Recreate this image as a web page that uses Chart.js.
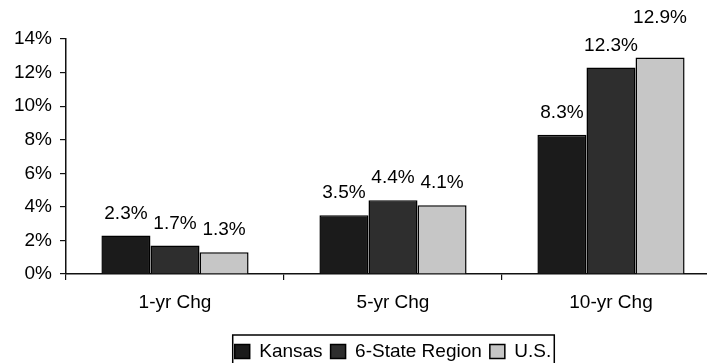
<!DOCTYPE html>
<html>
<head>
<meta charset="utf-8">
<script src="https://cdn.jsdelivr.net/npm/chart.js@4.4.1/dist/chart.umd.min.js"></script>
<style>
  html, body { margin: 0; padding: 0; background: #fff; overflow: hidden; }
  #wrap { width: 724px; height: 363px; position: relative; }
</style>
</head>
<body>
<div id="wrap"><canvas id="chart1"></canvas></div>
<script>
// categories and series
const categories = ['1-yr Chg', '5-yr Chg', '10-yr Chg']
const kansas = [2.3, 3.5, 8.3]
const sixState = [1.7, 4.4, 12.3]
const us = [1.3, 4.1, 12.9]
const yTicks = [0, 2, 4, 6, 8, 10, 12, 14]

const FONT = "'Liberation Sans', Arial, sans-serif"
const FSIZE = 19

// value labels above each bar
const valueLabels = {
  id: 'valueLabels',
  afterDatasetsDraw(chart) {
    const ctx = chart.ctx
    ctx.save()
    ctx.font = FSIZE + 'px ' + FONT
    ctx.fillStyle = '#000'
    ctx.textAlign = 'center'
    ctx.textBaseline = 'middle'
    chart.data.datasets.forEach((ds, i) => {
      chart.getDatasetMeta(i).data.forEach((bar, j) => {
        // the tallest one sits higher in the original
        let lift = 22
        if (i == 2 && j == 2) lift = 40
        ctx.fillText(ds.data[j].toFixed(1) + '%', bar.x, bar.y - lift)
      })
    })
    ctx.restore()
  }
}

// box round the legend
const legendBox = {
  id: 'legendBox',
  afterDraw(chart) {
    const lg = chart.legend
    if (!lg || !lg.legendHitBoxes.length) return
    const boxes = lg.legendHitBoxes
    const left = boxes[0].left - 2
    const right = boxes[boxes.length - 1].left + boxes[boxes.length - 1].width + 3
    const ctx = chart.ctx
    ctx.save()
    ctx.strokeStyle = '#000'
    ctx.lineWidth = 1.5
    ctx.strokeRect(left, 335, right - left, 40)
    ctx.restore()
  }
}

const ctx1 = document.getElementById('chart1').getContext('2d')
const myChart = new Chart(ctx1, {
  type: 'bar',
  data: {
    labels: categories,
    datasets: [{
      label: 'Kansas',
      data: kansas,
      backgroundColor: '#1b1b1b',
      borderColor: '#000',
      borderWidth: 1.5
    }, {
      label: '6-State Region',
      data: sixState,
      backgroundColor: '#2e2e2e',
      borderColor: '#000',
      borderWidth: 1.5
    }, {
      label: 'U.S.',
      data: us,
      backgroundColor: '#c6c6c6',
      borderColor: '#000',
      borderWidth: 1.5
    }]
  },
  options: {
    responsive: true,
    maintainAspectRatio: false,
    animation: false,
    categoryPercentage: 0.675,
    barPercentage: 1,
    layout: { padding: { top: 39, right: 4, left: 0, bottom: -8 } },
    plugins: {
      tooltip: { enabled: false },
      legend: {
        position: 'bottom',
        fullSize: false,
        labels: {
          font: { family: FONT, size: FSIZE },
          color: '#000',
          boxWidth: 15,
          boxHeight: 14,
          padding: 8,
          useBorderRadius: false
        }
      }
    },
    scales: {
      x: {
        afterFit(scale) { scale.height = 60 },
        grid: { drawOnChartArea: false, color: '#111', tickLength: 6, lineWidth: 1.2 },
        border: { display: true, color: '#111', width: 1.5 },
        ticks: { font: { family: FONT, size: FSIZE }, color: '#000', padding: 11 }
      },
      y: {
        min: 0,
        max: 14,
        afterFit(scale) { scale.width = 66 },
        afterBuildTicks(scale) { scale.ticks = yTicks.map(v => ({ value: v })) },
        grid: { drawOnChartArea: false, color: '#111', tickLength: 6, lineWidth: 1.2 },
        border: { display: true, color: '#111', width: 1.5 },
        ticks: {
          font: { family: FONT, size: FSIZE },
          color: '#000',
          padding: 8,
          callback: v => v + '%'
        }
      }
    }
  },
  plugins: [valueLabels, legendBox]
})
</script>
</body>
</html>
